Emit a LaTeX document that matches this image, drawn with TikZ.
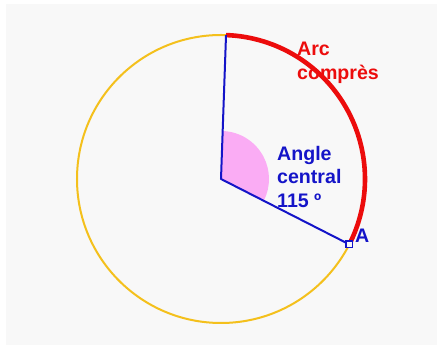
\documentclass[tikz,border=0pt]{standalone}
\usepackage{fontspec}
\setmainfont{Liberation Sans}
\usetikzlibrary{calc}
\definecolor{bgGray}{RGB}{248,248,248}
\definecolor{circYellow}{RGB}{244,192,28}
\definecolor{arcRed}{RGB}{236,12,12}
\definecolor{angBlue}{RGB}{20,20,200}
\definecolor{angPink}{RGB}{250,172,244}
\tikzset{
	lbl/.style={inner sep=0pt, align=left, font=\fontsize{19.6}{23.5}\selectfont\bfseries},
}

\begin{document}
\begin{tikzpicture}[x=1pt,y=1pt]
		\useasboundingbox (-221,-168) rectangle (216,179);
		\fill[white] (-221,-168) rectangle (216,179);
		\fill[bgGray] (-215,-166) rectangle (216,175);
		\def\rad{144}
		\coordinate (O) at (0,0);
		\coordinate (T) at (88:\rad);
		\coordinate (A) at (-27:\rad);
		% circle and compressed arc
		\draw[circYellow, line width=2pt] (O) circle (\rad);
		\draw[arcRed, line width=4.6pt] (T) arc (88:-27:\rad);
		% central angle
		\fill[angPink] (O) -- ++(88:48) arc (88:-27:48) -- cycle;
		\draw[angBlue, line width=2pt, line join=round] (T) -- (O) -- (A);
		\draw[angBlue, line width=1.4pt, fill=bgGray] ($(A)+(-3.2,-3.2)$) rectangle ($(A)+(3.2,3.2)$);
		% labels
		\node[lbl, arcRed, anchor=north west] (arcLbl) at (76,137) {Arc\\comprès};
		\node[lbl, angBlue, anchor=north west] (angLbl) at (56,33) {Angle\\central\\115 º};
		\node[lbl, angBlue, anchor=base west] (aLbl) at (134,-64) {A};
\end{tikzpicture}
\end{document}
